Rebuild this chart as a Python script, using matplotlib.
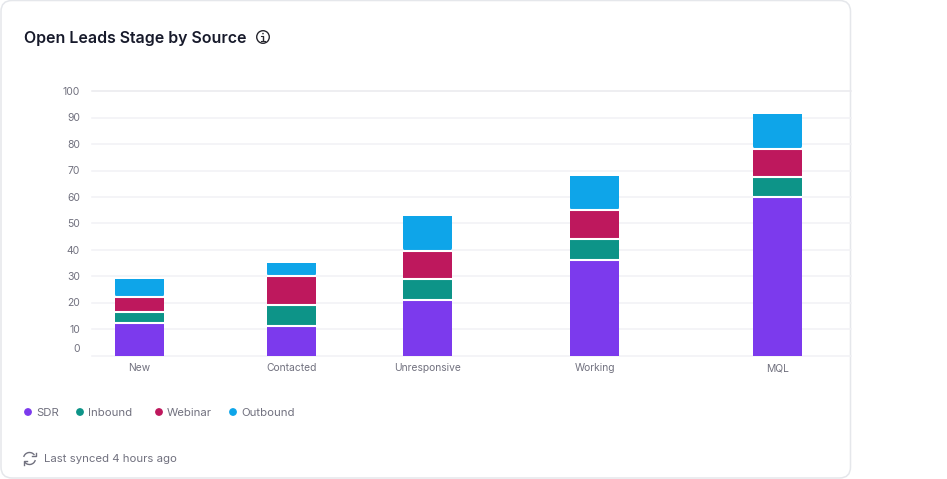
import matplotlib
matplotlib.use('Agg')
from matplotlib import pyplot as plt
from matplotlib.patches import FancyBboxPatch, Circle, Arc

plt.rcParams['font.family'] = ['Inter', 'DejaVu Sans']

W, H = 947, 479

categories = ['New', 'Contacted', 'Unresponsive', 'Working', 'MQL']
# bar centres are not evenly spaced in the original, px from the left of the plot
cat_pos = [47.5, 199.5, 335.5, 502.5, 685.5]

sdr = [12.3, 11.2, 21, 36, 60]
inbound = [4.1, 8, 8, 8, 7.7]
webinar = [5.7, 10.8, 10.6, 11, 10.5]
outbound = [6.9, 5.2, 13.2, 13, 13.3]

series_names = ['SDR', 'Inbound', 'Webinar', 'Outbound']
series_vals = [sdr, inbound, webinar, outbound]
colors = ['#7c3aed', '#0d9488', '#be185d', '#0ea5e9']
yticks = list(range(0, 101, 10))

legend_x = [28, 80, 159, 233]

text_col = '#71717f'
tick_col = '#71717f'
title_col = '#171a2b'
grid_col = '#f1f1f5'
border_col = '#e5e7eb'

fig = plt.figure(figsize=(W / 100, H / 100), dpi=100, facecolor='white')

# overlay in pixel coords for the card, title, legend and footer
bg = fig.add_axes([0, 0, 1, 1], zorder=0)
bg.set_xlim(0, W)
bg.set_ylim(H, 0)
bg.axis('off')

bg.add_patch(FancyBboxPatch((1, 0.5), 849.5, 477.5, boxstyle='round,pad=0,rounding_size=11',
                            fc='white', ec=border_col, lw=1.1))

bg.text(24, 38, 'Open Leads Stage by Source', fontsize=11.45, fontweight='semibold',
        color=title_col, va='center', ha='left')

# info icon
ic = '#27272f'
bg.add_patch(Circle((263, 37), 6.3, fc='none', ec=ic, lw=1.0))
bg.plot([263, 263], [36, 40.5], color=ic, lw=1.0, solid_capstyle='butt')
bg.plot([261.2, 263], [36, 36], color=ic, lw=0.8)
bg.plot([261, 265], [40.6, 40.6], color=ic, lw=0.8)
bg.add_patch(Circle((263, 33.6), 0.8, fc=ic, ec='none'))

# legend
for name, col, x in zip(series_names, colors, legend_x):
    bg.add_patch(Circle((x, 412), 3.9, fc=col, ec='none'))
    bg.text(x + 8, 413, name, fontsize=8.2, color=text_col, va='center', ha='left')

# sync icon
sc = '#71717f'
bg.add_patch(Arc((29.5, 458.5), 12, 12, theta1=195, theta2=325, color=sc, lw=1.0))
bg.add_patch(Arc((29.5, 458.5), 12, 12, theta1=15, theta2=145, color=sc, lw=1.0))
bg.plot([35.5, 35.5, 32], [452.5, 456, 456], color=sc, lw=1.0)
bg.plot([23.5, 23.5, 27], [464.5, 461, 461], color=sc, lw=1.0)

bg.text(44, 459, 'Last synced 4 hours ago', fontsize=8.2, color=text_col, va='center', ha='left')

# plot area: x 92..851, y 100 at px 91, y 0 at px 355
ax = fig.add_axes([92 / W, 1 - 355.5 / H, (851 - 92) / W, (355.5 - 91.3) / H], zorder=1)
ax.patch.set_alpha(0)
ax.set_xlim(0, 759)
ax.set_ylim(0, 100)
for s in ax.spines.values():
    s.set_visible(False)
ax.tick_params(length=0)
ax.set_xticks([])
ax.set_yticks([])

for v in yticks:
    ax.axhline(v, color='#e9e9ee' if v == 100 else grid_col, lw=1.1, zorder=1, clip_on=False)
    # the 0 label sits well above its gridline
    off = 5 if v == 0 else -0.5
    ax.annotate(str(v), xy=(0, v), xycoords=('axes fraction', 'data'), xytext=(-8.6, off),
                textcoords='offset points', ha='right', va='center', fontsize=7.5, color=tick_col)

bottoms = [0] * len(categories)
for vals, col, name in zip(series_vals, colors, series_names):
    bars = ax.bar(cat_pos, vals, width=49, bottom=bottoms, color=col, linewidth=0, zorder=3, label=name)
    if name == 'Outbound':
        # rounded top corners only on the last segment
        for b in bars:
            clip = FancyBboxPatch((b.get_x(), b.get_y()), b.get_width(), b.get_height() + 3,
                                  boxstyle='round,pad=0,rounding_size=3',
                                  mutation_aspect=0.38, transform=ax.transData, fc='none', ec='none')
            ax.add_patch(clip)
            b.set_clip_path(clip)
    bottoms = [a + c for a, c in zip(bottoms, vals)]
    # white gap on top of each lower segment
    if name != 'Outbound':
        for x, top in zip(cat_pos, bottoms):
            ax.plot([x - 24.5, x + 24.5], [top, top], color='white', lw=1.5, zorder=4, solid_capstyle='butt')

for x, label in zip(cat_pos, categories):
    ax.annotate(label, xy=(x, 0), xycoords=('data', 'axes fraction'), xytext=(0, -9),
                textcoords='offset points', ha='center', va='center', fontsize=7.4, color=tick_col)

fig.savefig('out.png', dpi=100, facecolor='white')
